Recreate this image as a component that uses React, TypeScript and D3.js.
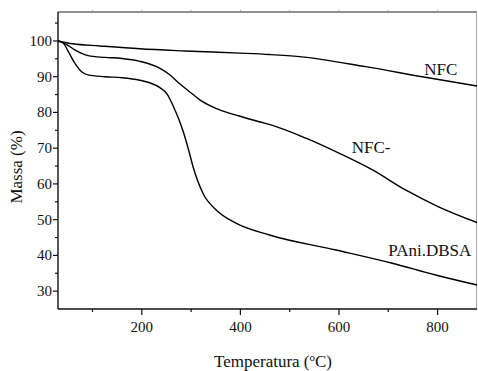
import * as d3 from "d3";

// temperature (°C) / mass (%) readings for each sample
const nfcTemp = [30, 60, 115, 196, 287, 398, 459, 520, 654, 772, 880];
const nfcMass = [100, 99.2, 98.6, 97.8, 97.2, 96.6, 96.2, 95.6, 92.8, 89.9, 87.4];

const nfcPaniTemp = [30, 45, 64, 91, 125, 160, 196, 236, 256, 277, 304, 317, 358, 398, 438, 465, 533, 600, 668, 735, 802, 880];
const nfcPaniMass = [100, 99.2, 97.5, 95.9, 95.4, 95.1, 94.3, 92.4, 90.6, 88.0, 85.0, 83.6, 80.7, 79.0, 77.4, 76.4, 72.8, 68.6, 63.9, 58.3, 53.6, 49.2];

const paniTemp = [30, 40, 51, 64, 78, 91, 125, 160, 196, 216, 236, 252, 263, 283, 295, 304, 324, 351, 391, 459, 594, 708, 796, 880];
const paniMass = [100, 99.5, 97.0, 93.8, 91.4, 90.5, 90.0, 89.7, 89.0, 88.3, 87.0, 85.0, 82.0, 75.1, 69.5, 64.8, 57.4, 52.7, 49.0, 45.7, 41.5, 37.8, 34.5, 31.7];

const seriesNames = ["NFC", "NFC-", "PAni.DBSA"];
const xMajorTicks = [200, 400, 600, 800];
const xMinorTicks = [100, 300, 500, 700];
const yMajorTicks = [30, 40, 50, 60, 70, 80, 90, 100];
const yMinorTicks = [35, 45, 55, 65, 75, 85, 95, 105];

const width = 478;
const height = 371;
const margin = { top: 12, right: 1, bottom: 62, left: 58 };
const font = "Liberation Serif";
const ink = "#111";

// plain serif text helper
function Label(props: { x: number; y: number; size: number; anchor?: string; transform?: string; children: any }) {
  return (
    <text
      x={props.x}
      y={props.y}
      transform={props.transform}
      textAnchor={props.anchor ?? "start"}
      fontFamily={font}
      fill={ink}
      style={{ fontFamily: font, fontSize: props.size + "px" }}
    >
      {props.children}
    </text>
  );
}

export default function App() {
  const x = d3.scaleLinear().domain([30, 880]).range([margin.left, width - margin.right]);
  const y = d3.scaleLinear().domain([25, 108.1]).range([height - margin.bottom, margin.top]);
  const bottom = height - margin.bottom;
  const right = width - margin.right;

  const line = d3.line<[number, number]>()
    .x(d => x(d[0]))
    .y(d => y(d[1]))
    .curve(d3.curveMonotoneX);

  const series = [
    { name: seriesNames[0], temp: nfcTemp, mass: nfcMass },
    { name: seriesNames[1], temp: nfcPaniTemp, mass: nfcPaniMass },
    { name: seriesNames[2], temp: paniTemp, mass: paniMass },
  ];

  // label anchors in data units
  const labels = [
    { name: seriesNames[0], t: 773, v: 90.6 },
    { name: seriesNames[1], t: 626, v: 68.6 },
    { name: seriesNames[2], t: 700, v: 39.9 },
  ];

  return (
    <div style={{ position: "absolute", left: 0, top: 0, width, height, background: "#fff", fontFamily: font }}>
      <svg width={width} height={height}>
        {/* frame */}
        <line x1={margin.left} x2={right} y1={margin.top} y2={margin.top} stroke="#222" strokeWidth={1.2} />
        <line x1={right - 0.5} x2={right - 0.5} y1={margin.top} y2={bottom} stroke="#aaa" strokeWidth={1} />
        {[...xMajorTicks, ...xMinorTicks].map(t => (
          <line key={"top" + t} x1={x(t)} x2={x(t)} y1={margin.top} y2={margin.top - 2} stroke="#999" />
        ))}

        {/* curves */}
        {series.map(s => (
          <path
            key={s.name}
            d={line(s.temp.map((t, i) => [t, s.mass[i]] as [number, number])) ?? ""}
            fill="none"
            stroke="#000"
            strokeWidth={1.4}
          />
        ))}

        {/* x axis */}
        <line x1={margin.left} x2={right} y1={bottom} y2={bottom} stroke={ink} strokeWidth={1.4} />
        {xMajorTicks.map(t => (
          <line key={"x" + t} x1={x(t)} x2={x(t)} y1={bottom} y2={bottom + 6} stroke={ink} strokeWidth={1.2} />
        ))}
        {xMajorTicks.map(t => (
          <Label key={"xl" + t} x={x(t)} y={bottom + 23} size={15} anchor="middle">{String(t)}</Label>
        ))}
        {xMinorTicks.map(t => (
          <line key={"xm" + t} x1={x(t)} x2={x(t)} y1={bottom} y2={bottom + 3} stroke={ink} strokeWidth={1.2} />
        ))}

        {/* y axis */}
        <line x1={margin.left} x2={margin.left} y1={margin.top} y2={bottom} stroke={ink} strokeWidth={1.4} />
        {yMajorTicks.map(t => (
          <line key={"y" + t} x1={margin.left - 5} x2={margin.left} y1={y(t)} y2={y(t)} stroke={ink} strokeWidth={1.2} />
        ))}
        {yMajorTicks.map(t => (
          <Label key={"yl" + t} x={margin.left - 6} y={y(t) + 5} size={15} anchor="end">{String(t)}</Label>
        ))}
        {yMinorTicks.map(t => (
          <line key={"ym" + t} x1={margin.left - 3} x2={margin.left} y1={y(t)} y2={y(t)} stroke={ink} strokeWidth={1.2} />
        ))}

        {/* titles */}
        <Label x={273} y={367} size={17} anchor="middle">
          Temperatura (<tspan style={{ fontSize: "11px" }} dy={-6}>o</tspan><tspan dy={6}>C)</tspan>
        </Label>
        <Label x={0} y={0} size={17} anchor="middle" transform="translate(22,167) rotate(-90)">
          Massa (%)
        </Label>

        {/* direct labels */}
        {labels.map(l => (
          <Label key={"l" + l.name} x={x(l.t)} y={y(l.v)} size={17}>{l.name}</Label>
        ))}
      </svg>
    </div>
  );
}
